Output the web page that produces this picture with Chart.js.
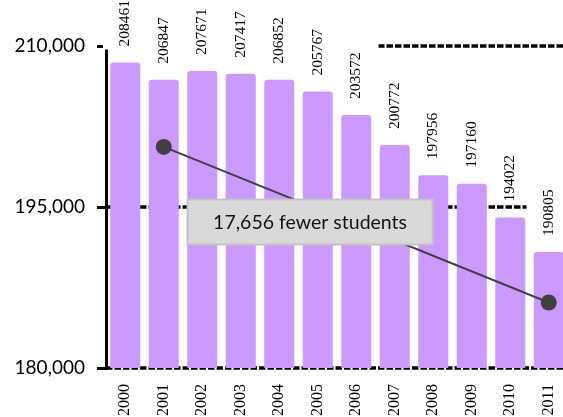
<!DOCTYPE html>
<html>
<head>
<meta charset="utf-8">
<script src="https://cdn.jsdelivr.net/npm/chart.js@4.4.0/dist/chart.umd.min.js"></script>
<style>
  html, body { margin: 0; padding: 0; background: #fff; overflow: hidden; }
  #wrap { position: relative; width: 576px; height: 417px; }
</style>
</head>
<body>
<div id="wrap"><canvas id="c" width="576" height="417"></canvas></div>
<script>
// Enrolment by school year
const years = ['2000', '2001', '2002', '2003', '2004', '2005', '2006', '2007', '2008', '2009', '2010', '2011'];
const enrolment = [208461, 206847, 207671, 207417, 206852, 205767, 203572, 200772, 197956, 197160, 194022, 190805];
// Decline marker: two end points joined by a line
const declineLine = [null, 200600, null, null, null, null, null, null, null, null, null, 186100];
const yTickValues = [180000, 195000, 210000];
const calloutText = '17,656 fewer students';

// Dashed horizontal rules at each y tick, drawn beneath the bars
const dashedGrid = {
  id: 'dashedGrid',
  beforeDatasetsDraw(chart) {
    const { ctx, chartArea } = chart;
    const ys = chart.scales.y;
    ctx.save();
    ctx.strokeStyle = '#000';
    ctx.lineWidth = 3.5;
    ctx.setLineDash([6.5, 2]);
    yTickValues.forEach(v => {
      const y = ys.getPixelForValue(v);
      ctx.beginPath();
      ctx.moveTo(chartArea.left, y);
      ctx.lineTo(chartArea.right, y);
      ctx.stroke();
    });
    ctx.restore();
  }
};

// Vertical value labels above each bar, on white boxes
const barLabels = {
  id: 'barLabels',
  afterDatasetsDraw(chart) {
    const { ctx } = chart;
    const meta = chart.getDatasetMeta(0);
    const xs = chart.scales.x;
    const catW = xs.getPixelForValue(1) - xs.getPixelForValue(0);
    ctx.save();
    ctx.font = '15.5px "Liberation Serif", "Times New Roman", serif';
    meta.data.forEach((bar, i) => {
      const text = String(enrolment[i]);
      const w = ctx.measureText(text).width;
      const start = bar.y - 16;
      ctx.fillStyle = '#fff';
      ctx.fillRect(bar.x - catW / 2 - 3, start - w - 12, catW + 6, w + 15);
      ctx.save();
      ctx.translate(bar.x, start);
      ctx.rotate(-Math.PI / 2);
      ctx.fillStyle = '#000';
      ctx.textAlign = 'left';
      ctx.textBaseline = 'middle';
      ctx.fillText(text, 0, 0);
      ctx.restore();
    });
    ctx.restore();
  }
};

// Grey callout box over the decline line
const callout = {
  id: 'callout',
  afterDatasetsDraw(chart) {
    const { ctx } = chart;
    const cx = chart.scales.x.getPixelForValue(4.8);
    const cy = chart.scales.y.getPixelForValue(193600);
    const w = 245, h = 45;
    ctx.save();
    ctx.fillStyle = '#d9d9d9';
    ctx.fillRect(cx - w / 2, cy - h / 2, w, h);
    ctx.strokeStyle = '#c3c3c3';
    ctx.lineWidth = 2;
    ctx.strokeRect(cx - w / 2, cy - h / 2, w, h);
    ctx.fillStyle = '#141414';
    ctx.font = '19.5px Lato, "Noto Sans", sans-serif';
    ctx.textAlign = 'center';
    ctx.textBaseline = 'middle';
    ctx.fillText(calloutText, cx, cy + 1);
    ctx.restore();
  }
};

new Chart(document.getElementById('c'), {
  type: 'bar',
  data: {
    labels: years,
    datasets: [
      {
        type: 'bar',
        data: enrolment,
        backgroundColor: '#cc99ff',
        borderRadius: { topLeft: 3, topRight: 3 },
        borderSkipped: 'bottom',
        barPercentage: 0.78,
        categoryPercentage: 1,
        order: 2
      },
      {
        type: 'line',
        data: declineLine,
        spanGaps: true,
        borderColor: '#404040',
        borderWidth: 2,
        pointRadius: 8,
        pointBackgroundColor: '#404040',
        pointBorderWidth: 0,
        order: 1
      }
    ]
  },
  options: {
    responsive: false,
    animation: false,
    layout: { padding: { top: 46, right: 4, left: 0, bottom: 0 } },
    plugins: { legend: { display: false }, tooltip: { enabled: false } },
    scales: {
      x: {
        offset: true,
        grid: { display: false, drawTicks: false, tickLength: 0 },
        border: { display: false },
        ticks: {
          autoSkip: false,
          minRotation: 90,
          maxRotation: 90,
          padding: 16,
          color: '#000',
          font: { family: '"Liberation Serif", "Times New Roman", serif', size: 16 }
        },
        afterFit(s) { s.height = 49; s.paddingLeft = 0; s.paddingRight = 0; }
      },
      y: {
        z: 1,
        min: 180000,
        max: 210000,
        afterBuildTicks(s) { s.ticks = yTickValues.map(v => ({ value: v })); },
        grid: { drawOnChartArea: false, color: '#000', lineWidth: 3, tickLength: 9 },
        border: { display: true, color: '#000', width: 3 },
        ticks: {
          padding: 12,
          color: '#000',
          font: { family: 'Lato, "Noto Sans", sans-serif', size: 19 },
          callback: v => Number(v).toLocaleString('en-US')
        },
        afterFit(s) { s.width = 106; s.paddingTop = 0; s.paddingBottom = 0; }
      }
    }
  },
  plugins: [dashedGrid, barLabels, callout]
});
</script>
</body>
</html>
